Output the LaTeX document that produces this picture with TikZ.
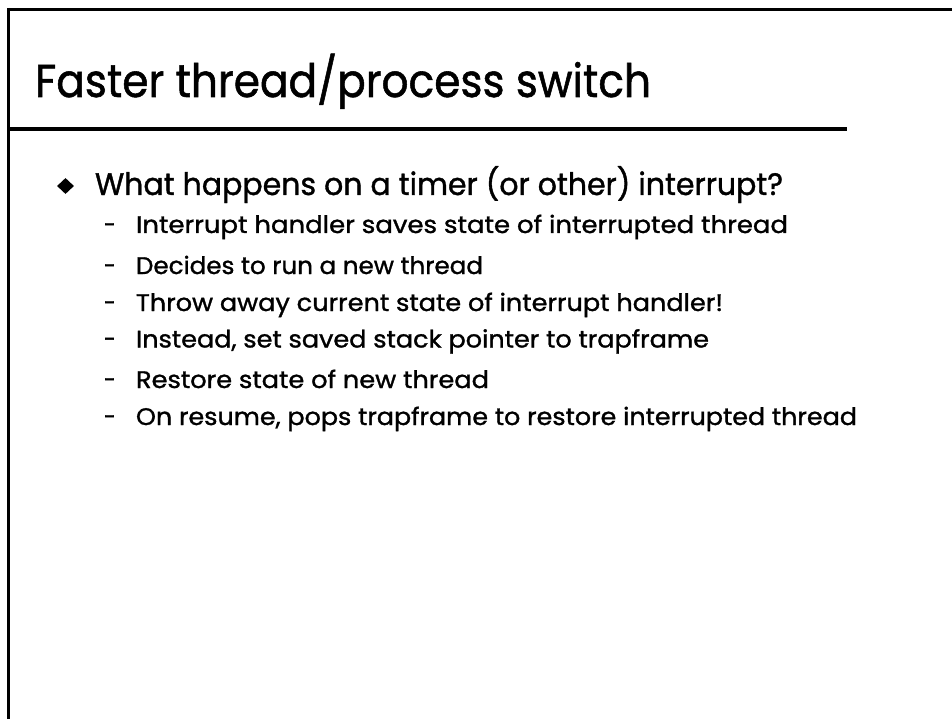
\documentclass[tikz,border=0pt]{standalone}
\usepackage{fontspec}
\usepackage{graphicx}
\setmainfont{Poppins}[UprightFeatures={FakeBold=1.2}]
\usetikzlibrary{shapes.geometric}

% stretch a line of text to a given width, keeping its height
\newcommand{\fitto}[2]{\resizebox{#1}{\height}{#2}}

\tikzset{
  rule/.style={line width=3pt, line cap=butt},
  titlebar/.style={line width=4pt, line cap=butt},
  txt/.style={anchor=base west, inner sep=0pt, outer sep=0pt},
  titletxt/.style={txt, font=\fontsize{46}{50}\selectfont},
  lvlone/.style={txt, font=\fontsize{31}{36}\selectfont},
  lvltwo/.style={txt, font=\fontsize{24}{28}\selectfont},
  bulletmark/.style={diamond, fill=black, inner sep=0pt,
    minimum width=17pt, minimum height=16pt},
}

\begin{document}
\begin{tikzpicture}[x=1pt, y=-1pt]
  \useasboundingbox (0,0) rectangle (952,719);

  % slide frame
  \coordinate (tl) at (8.5,8);
  \coordinate (tr) at (952,8);
  \coordinate (bl) at (8.5,719);
  \draw[rule] (7,9.5) -- (tr |- 0,9.5);
  \draw[rule] (tl) -- (bl);

  % title and its underline
  \node[titletxt] (title) at (35,97) {\fitto{616pt}{Faster thread/process switch}};
  \coordinate (barL) at (8,129);
  \coordinate (barR) at (847,129);
  \draw[titlebar] (barL) -- (barR);

  % first-level bullet
  \node[bulletmark] (b1) at (65.5,186) {};
  \node[lvlone] (q) at (95,195) {\fitto{688pt}{What happens on a timer (or other) interrupt?}};

  % second-level items
  \foreach \y/\w/\t [count=\i] in {
      233/652pt/{Interrupt handler saves state of interrupted thread},
      274/347pt/{Decides to run a new thread},
      311/587pt/{Throw away current state of interrupt handler!},
      347.5/573pt/{Instead, set saved stack pointer to trapframe},
      388/353pt/{Restore state of new thread},
      425/721pt/{On resume, pops trapframe to restore interrupted thread}} {
    \node[lvltwo] (d\i) at (104,\y) {\fitto{11pt}{–}};
    \node[lvltwo] (s\i) at (136,\y) {\fitto{\w}{\t}};
  }
\end{tikzpicture}
\end{document}
